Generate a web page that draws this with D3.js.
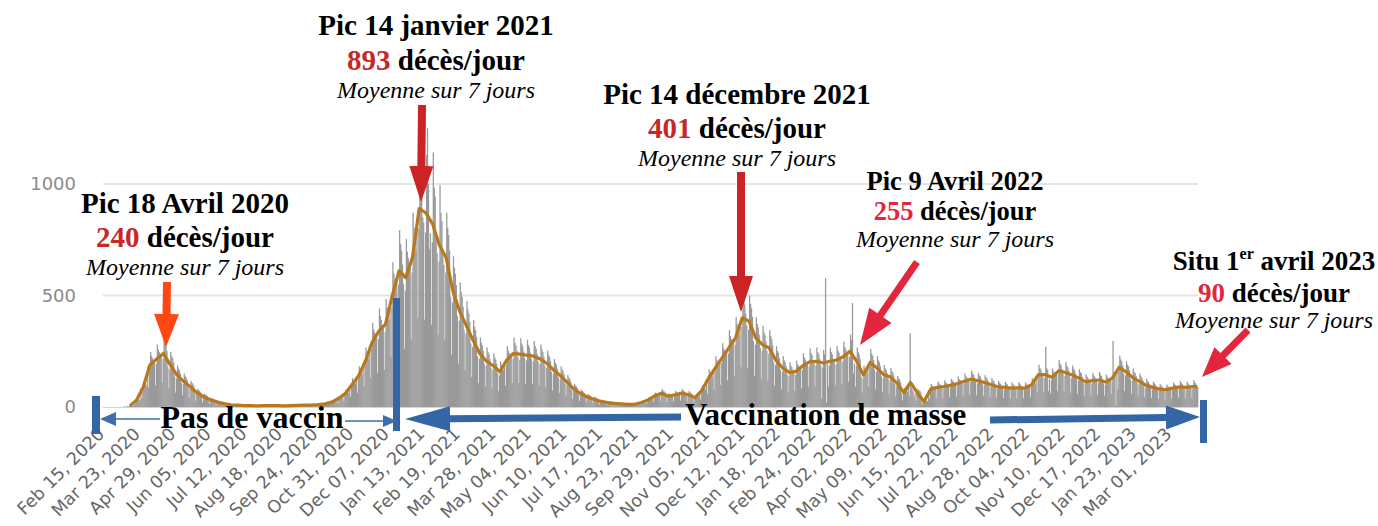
<!DOCTYPE html>
<html><head><meta charset="utf-8">
<script src="https://cdn.jsdelivr.net/npm/d3@7"></script>
<style>html,body{margin:0;padding:0;background:#fff;}svg{display:block;}</style>
</head><body>
<svg id="chart" width="1378" height="526"></svg>
<script>
// ---------- DATA ----------
const firstDay = "2020-02-15";
const xTickLabels = ["Feb 15, 2020","Mar 23, 2020","Apr 29, 2020","Jun 05, 2020","Jul 12, 2020","Aug 18, 2020","Sep 24, 2020","Oct 31, 2020","Dec 07, 2020","Jan 13, 2021","Feb 19, 2021","Mar 28, 2021","May 04, 2021","Jun 10, 2021","Jul 17, 2021","Aug 23, 2021","Sep 29, 2021","Nov 05, 2021","Dec 12, 2021","Jan 18, 2022","Feb 24, 2022","Apr 02, 2022","May 09, 2022","Jun 15, 2022","Jul 22, 2022","Aug 28, 2022","Oct 04, 2022","Nov 10, 2022","Dec 17, 2022","Jan 23, 2023","Mar 01, 2023"];
const yTickValues = [0, 500, 1000];

// daily deaths, one row per week (Sat..Fri) from Feb 15, 2020
const dailyDeaths = [
0,0,0,0,0,0,0, 0,0,0,0,0,0,0, 0,0,0,0,0,0,0, 1,0,1,1,2,1,1,
4,2,5,7,6,6,5, 28,14,27,39,36,35,31, 85,40,80,117,108,104,95, 180,85,171,247,228,219,200,
204,97,194,280,258,247,226, 228,108,216,330,288,276,252, 180,86,171,247,228,219,200, 136,64,129,186,172,164,150,
109,52,104,150,138,132,121, 86,41,81,117,108,104,95, 60,28,57,82,76,72,66, 44,21,41,60,55,53,48,
30,14,29,42,38,37,34, 21,10,20,29,26,25,23, 14,7,14,20,18,17,16, 10,4,9,13,12,12,10,
8,4,7,10,10,9,8, 6,3,5,8,7,7,6, 6,2,5,8,7,7,6, 5,2,4,7,6,6,5,
6,3,5,8,7,7,6, 6,2,6,8,7,7,6, 5,3,5,8,7,7,6, 5,2,5,6,6,6,5,
6,3,5,8,7,7,6, 7,3,6,9,8,8,7, 8,4,7,10,10,9,8, 9,4,8,12,11,10,9,
10,5,10,14,13,13,12, 13,6,13,18,17,16,15, 21,10,20,29,26,25,23, 36,17,34,49,46,44,40,
57,27,54,78,72,69,63, 95,45,90,130,120,115,105, 133,63,126,182,168,161,147, 195,92,185,267,246,236,215,
276,130,261,377,348,334,304, 323,153,306,442,408,391,357, 353,167,335,484,446,428,391, 475,225,450,650,600,575,525,
580,275,549,793,732,702,640, 551,261,522,754,696,667,609, 637,302,603,871,804,771,702, 846,400,801,1240,1068,1024,851,
827,392,783,1131,1250,1000,707, 779,369,738,1142,984,943,785, 689,326,653,995,870,834,708, 637,302,603,871,804,771,702,
494,234,468,676,624,598,546, 409,194,387,559,516,495,450, 347,164,329,475,438,420,382, 285,135,270,390,360,345,315,
228,108,216,312,288,276,252, 195,92,185,267,246,236,215, 176,83,167,241,222,213,193, 150,71,142,205,190,182,166,
200,95,189,273,252,242,219, 228,108,216,312,288,276,252, 225,107,213,308,284,273,249, 220,104,209,302,278,267,244,
217,103,205,296,274,262,239, 204,97,194,280,258,247,225, 185,88,176,254,234,224,204, 157,74,149,215,198,190,172,
133,63,126,182,168,161,147, 105,50,99,143,132,127,114, 76,36,72,104,96,92,84, 57,27,54,78,72,69,63,
43,20,41,59,54,52,46, 33,16,32,46,42,40,36, 24,11,23,33,30,29,25, 19,9,18,26,24,23,21,
15,7,14,21,19,18,18, 13,6,13,18,17,16,15, 11,5,11,16,14,14,13, 11,5,11,16,14,14,13,
19,9,18,26,24,23,21, 30,14,29,42,38,37,34, 48,23,45,65,60,58,51, 59,28,56,81,74,71,65,
46,22,43,62,58,55,50, 52,25,50,72,66,63,57, 59,28,56,81,74,71,65, 52,25,50,72,66,63,57,
40,19,38,55,50,48,44, 71,34,68,98,90,86,78, 124,59,117,169,156,150,135, 166,79,158,228,210,201,183,
209,99,198,286,264,253,231, 252,119,239,345,318,305,277, 295,140,279,403,372,357,324, 380,180,360,509,480,460,420,
366,173,347,500,462,443,404, 295,140,279,403,372,357,324, 266,126,252,364,336,322,294, 252,119,239,345,318,305,277,
200,95,189,273,252,242,219, 166,79,158,228,210,201,183, 147,70,140,202,186,178,162, 152,72,144,208,192,184,168,
176,83,167,241,222,213,193, 192,91,182,263,242,232,211, 195,92,185,267,246,236,215, 187,40,177,256,236,578,20,
195,92,185,267,246,236,215, 200,95,190,274,253,243,222, 214,101,203,293,270,259,236, 238,113,225,325,300,466,150,
195,92,185,267,246,236,215, 136,64,129,186,172,164,150, 190,90,180,260,240,230,210, 166,79,158,228,210,201,183,
138,65,131,189,174,167,152, 127,60,121,174,161,154,141, 102,48,96,139,128,123,112, 62,29,59,85,78,75,68,
105,50,331,90,80,70,44, 60,28,57,82,76,72,66, 24,11,23,33,30,29,26, 76,36,72,104,96,92,84,
84,40,79,114,106,101,92, 87,41,83,120,110,106,97, 93,44,88,127,118,113,103, 100,47,95,137,126,121,110,
109,52,104,150,138,132,121, 119,56,113,163,150,144,131, 112,53,106,153,142,136,124, 105,50,99,143,132,127,116,
95,45,90,130,120,115,105, 86,41,81,117,108,104,95, 84,40,79,114,106,101,92, 81,38,77,111,102,98,89,
82,39,77,112,103,99,90, 81,38,77,111,102,98,89, 95,45,90,130,120,115,105, 138,65,131,189,174,167,152,
138,65,131,269,174,167,71, 126,60,120,173,160,153,140, 154,73,146,211,194,186,170, 147,70,140,202,186,178,163,
136,64,129,186,172,164,150, 124,59,117,169,156,150,135, 107,51,102,147,136,130,119, 112,53,106,153,142,136,124,
115,54,109,157,145,139,127, 106,50,101,146,134,129,118, 124,59,117,296,156,150,8, 169,80,160,231,214,205,187,
150,71,142,205,190,182,166, 125,59,119,172,158,152,139, 109,52,104,150,138,132,121, 92,44,87,126,116,112,102,
84,40,79,114,106,101,92, 76,36,72,104,96,92,84, 74,35,70,101,94,90,82, 81,38,77,111,102,98,89,
86,41,81,117,108,104,95, 84,40,79,114,106,101,92, 87,41,83,120,110,106,97,
90
];

// 7-day average, one value per week (mid-week), null before the first deaths
const weeklyAvg7 = [
null,null,null,null,5,30,90,190,215,240,190,143,115,90,63,46,32,22,15,10,
8,6,6,5,6,6,6,5,6,7,8,9,11,14,22,38,60,100,140,205,
290,340,372,500,610,580,670,890,870,820,725,670,520,430,365,300,240,205,185,158,
210,240,237,232,228,215,195,165,140,110,80,60,45,35,25,20,16,14,12,12,
20,32,50,62,48,55,62,55,42,75,130,175,220,265,310,400,385,310,280,265,
210,175,155,160,185,202,205,197,205,211,225,250,205,143,200,175,145,134,107,65,
110,63,25,80,88,92,98,105,115,125,118,110,100,90,88,85,86,85,100,145,
145,133,162,155,143,130,113,118,121,112,130,178,158,132,115,97,88,80,78,85,
90,88,92,90
];

const peakTitles = ["Pic 18 Avril 2020", "Pic 14 janvier 2021", "Pic 14 décembre 2021", "Pic 9 Avril 2022", "Situ 1er avril 2023"];
const peakValues = [240, 893, 401, 255, 90];
const unitText = " décès/jour";
const avgText = "Moyenne sur 7 jours";
const periodLabels = ["Pas de vaccin", "Vaccination de masse"];

// ---------- CHART ----------
const svg = d3.select("#chart");
const d0 = d3.timeParse("%Y-%m-%d")(firstDay);
const dayDate = i => d3.timeDay.offset(d0, i);
const x = d3.scaleTime().domain([d0, dayDate(dailyDeaths.length)]).range([100, 1198]);
const y = d3.scaleLinear().domain([0, 1000]).range([407, 184]);

// gridlines
svg.append("g").selectAll("line").data(yTickValues.filter(v => v > 0)).join("line")
  .attr("x1", 103).attr("x2", 1198).attr("y1", d => y(d)).attr("y2", d => y(d))
  .attr("stroke", "#e5e5e5").attr("stroke-width", 2);

// bars
svg.append("g").attr("fill", "#999").selectAll("rect").data(dailyDeaths).join("rect")
  .attr("x", (d, i) => x(dayDate(i)))
  .attr("width", (d, i) => x(dayDate(i + 1)) - x(dayDate(i)) + 0.3)
  .attr("y", d => y(d)).attr("height", d => y(0) - y(d));

// baseline
svg.append("line").attr("x1", 103).attr("x2", 1198).attr("y1", y(0) + 0.5).attr("y2", y(0) + 0.5)
  .attr("stroke", "#c9d5ea").attr("stroke-width", 1);

// 7-day average line
const avgPts = weeklyAvg7.map((v, w) => ({ date: dayDate(Math.min(7 * w + 3, dailyDeaths.length - 1)), v }))
  .filter(p => p.v != null);
svg.append("path").datum(avgPts)
  .attr("d", d3.line().x(p => x(p.date)).y(p => y(p.v)))
  .attr("fill", "none").attr("stroke", "#b8781e").attr("stroke-width", 3.2)
  .attr("stroke-linejoin", "round");

// y axis
svg.append("g").attr("transform", "translate(76,0)")
  .call(d3.axisLeft(y).tickValues(yTickValues).tickFormat(d3.format("d")).tickSize(0).tickPadding(0))
  .call(g => g.select(".domain").remove())
  .selectAll("text").attr("font-family", "DejaVu Sans").attr("font-size", 18).attr("fill", "#8a8a8a");

// x axis
const parseTick = d3.timeParse("%b %d, %Y");
svg.append("g").attr("transform", `translate(0,${y(0)})`)
  .call(d3.axisBottom(x).tickValues(xTickLabels.map(parseTick)).tickFormat(d3.timeFormat("%b %d, %Y")).tickSize(0))
  .call(g => g.select(".domain").remove())
  .selectAll("text")
  .attr("x", 0).attr("y", 0).attr("dy", 0)
  .attr("text-anchor", "end")
  .attr("transform", "translate(5,28) rotate(-45)")
  .attr("font-family", "DejaVu Sans").attr("font-size", 17.5).attr("fill", "#666");

// ---------- ANNOTATIONS ----------
function arrow(x1, y1, x2, y2, sw, hl, hw, color) {
  const dx = x2 - x1, dy = y2 - y1, L = Math.hypot(dx, dy);
  const ux = dx / L, uy = dy / L, px = -uy, py = ux;
  const bx = x2 - ux * hl, by = y2 - uy * hl;
  const pts = [
    [x1 + px * sw / 2, y1 + py * sw / 2], [bx + px * sw / 2, by + py * sw / 2],
    [bx + px * hw / 2, by + py * hw / 2], [x2, y2],
    [bx - px * hw / 2, by - py * hw / 2], [bx - px * sw / 2, by - py * sw / 2],
    [x1 - px * sw / 2, y1 - py * sw / 2]];
  svg.append("polygon").attr("points", pts.map(p => p.join(",")).join(" ")).attr("fill", color);
}

function peakLabel(i, cx, bases, size, numColor) {
  const t1 = svg.append("text").attr("x", cx).attr("y", bases[0]).attr("text-anchor", "middle")
    .attr("font-family", "Liberation Serif").attr("font-weight", "bold").attr("font-size", size).attr("fill", "#000");
  const m = peakTitles[i].match(/^(.*\d)(er)( .*)$/);
  if (m) {
    t1.append("tspan").text(m[1]);
    t1.append("tspan").attr("font-size", size * 0.6).attr("dy", -size * 0.4).text(m[2]);
    t1.append("tspan").attr("dy", size * 0.4).text(m[3]);
  } else t1.text(peakTitles[i]);
  const t2 = svg.append("text").attr("x", cx).attr("y", bases[1]).attr("text-anchor", "middle")
    .attr("font-family", "Liberation Serif").attr("font-weight", "bold").attr("font-size", size).attr("fill", "#000");
  t2.append("tspan").attr("fill", numColor).text(peakValues[i]);
  t2.append("tspan").text(unitText);
  svg.append("text").attr("x", cx).attr("y", bases[2]).attr("text-anchor", "middle")
    .attr("font-family", "Liberation Serif").attr("font-style", "italic").attr("font-size", 24).attr("fill", "#000")
    .text(avgText);
}

const darkRed = "#c62828", brightRed = "#e3263c";
peakLabel(0, 185, [213, 247, 275], 29, darkRed);
peakLabel(1, 436, [35, 70, 98], 29, darkRed);
peakLabel(2, 737, [104, 138, 166], 29, darkRed);
peakLabel(3, 955, [190, 220, 247], 26.5, brightRed);
peakLabel(4, 1274, [270, 302, 328], 27, brightRed);

arrow(167, 282, 166, 347, 8, 33, 25, "#ff4613");
arrow(422, 105, 421, 202, 8, 36, 24, "#cc2424");
arrow(741, 172, 741, 312, 8, 36, 24, "#cc2424");
arrow(917, 262, 860, 345, 7, 36, 27, brightRed);
arrow(1248, 330, 1202, 377, 7, 30, 24, brightRed);

// vaccination periods
const blue = "#3465a4";
svg.append("rect").attr("x", 92).attr("y", 396).attr("width", 8).attr("height", 38).attr("fill", blue);
svg.append("rect").attr("x", 393).attr("y", 298).attr("width", 7).attr("height", 133).attr("fill", blue);
svg.append("rect").attr("x", 1200).attr("y", 400).attr("width", 7).attr("height", 43).attr("fill", blue);
arrow(160, 419, 100, 419, 1.6, 16, 14, "#3d6fb0");
arrow(345, 421, 397, 421, 1.6, 14, 12, "#3d6fb0");
arrow(681, 417, 405, 419, 7, 45, 25, blue);
arrow(990, 420, 1200, 417, 7, 34, 24, blue);

svg.append("text").attr("x", 252).attr("y", 428).attr("text-anchor", "middle")
  .attr("font-family", "Liberation Serif").attr("font-weight", "bold").attr("font-size", 32).text(periodLabels[0]);
svg.append("text").attr("x", 685).attr("y", 425).attr("text-anchor", "start")
  .attr("font-family", "Liberation Serif").attr("font-weight", "bold").attr("font-size", 31).text(periodLabels[1]);
</script>
</body></html>
